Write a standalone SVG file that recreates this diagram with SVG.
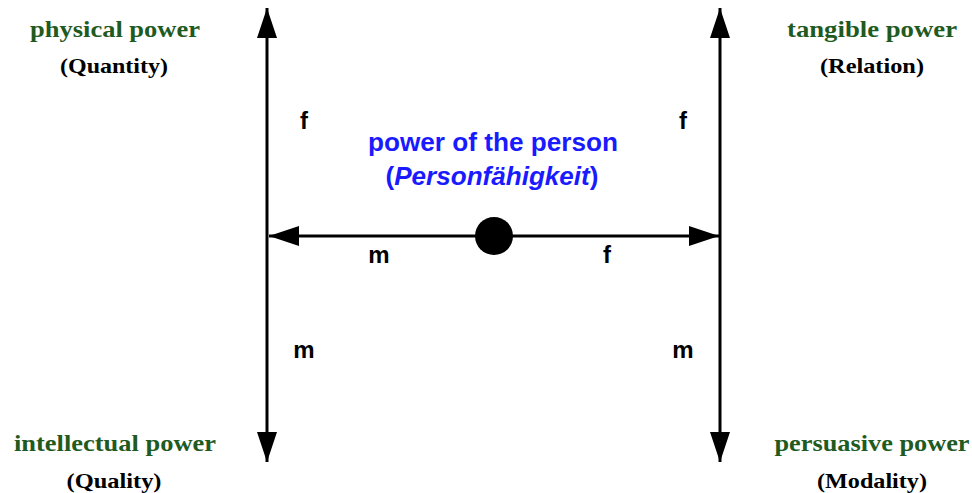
<svg xmlns="http://www.w3.org/2000/svg" width="972" height="493" viewBox="0 0 972 493">
<style>
.t{font-family:"Liberation Serif","Times New Roman",serif;font-weight:bold;text-anchor:middle}
.g{fill:#1f5a1f;font-size:24px}
.k{fill:#000;font-size:21px}
.l{font-family:"Liberation Sans",Arial,sans-serif;font-weight:bold;font-size:24px;fill:#000;text-anchor:middle}
.b{font-family:"Liberation Sans",Arial,sans-serif;font-weight:bold;font-size:25px;fill:#1a1aff;text-anchor:middle}
.ln{stroke:#000;stroke-width:3;fill:none}
</style>
<defs>
<marker id="ah" viewBox="0 0 30 20" refX="30" refY="10" markerWidth="30" markerHeight="20" markerUnits="userSpaceOnUse" orient="auto">
<path d="M0,0 L30,10 L0,20 z" fill="#000"/>
</marker>
</defs>
<rect width="972" height="493" fill="#fff"/>
<g id="connectors">
<line class="ln" x1="267" y1="236" x2="267" y2="8" marker-end="url(#ah)"/>
<line class="ln" x1="267" y1="236" x2="267" y2="462" marker-end="url(#ah)"/>
<line class="ln" x1="720" y1="236" x2="720" y2="8" marker-end="url(#ah)"/>
<line class="ln" x1="720" y1="236" x2="720" y2="462" marker-end="url(#ah)"/>
<line class="ln" x1="494" y1="236" x2="269" y2="236" marker-end="url(#ah)"/>
<line class="ln" x1="494" y1="236" x2="719" y2="236" marker-end="url(#ah)"/>
<text class="l" x="304" y="129">f</text>
<text class="l" x="683" y="129">f</text>
<text class="l" x="379" y="263">m</text>
<text class="l" x="607" y="263">f</text>
<text class="l" x="304" y="358">m</text>
<text class="l" x="683" y="358">m</text>
</g>
<g id="center">
<circle cx="494" cy="236" r="19" fill="#000"/>
<text class="b" x="493" y="151" textLength="250" lengthAdjust="spacingAndGlyphs">power of the person</text>
<text class="b" x="492" y="185" textLength="213" lengthAdjust="spacingAndGlyphs">(<tspan font-style="italic">Personfähigkeit</tspan>)</text>
</g>
<g id="physical">
<text class="t g" x="115" y="37" textLength="170" lengthAdjust="spacingAndGlyphs">physical power</text>
<text class="t k" x="114" y="73" textLength="108" lengthAdjust="spacingAndGlyphs">(Quantity)</text>
</g>
<g id="tangible">
<text class="t g" x="872" y="37" textLength="170" lengthAdjust="spacingAndGlyphs">tangible power</text>
<text class="t k" x="872" y="73" textLength="104" lengthAdjust="spacingAndGlyphs">(Relation)</text>
</g>
<g id="intellectual">
<text class="t g" x="115" y="451" textLength="202" lengthAdjust="spacingAndGlyphs">intellectual power</text>
<text class="t k" x="114" y="488" textLength="95" lengthAdjust="spacingAndGlyphs">(Quality)</text>
</g>
<g id="persuasive">
<text class="t g" x="872" y="451" textLength="195" lengthAdjust="spacingAndGlyphs">persuasive power</text>
<text class="t k" x="872" y="488" textLength="110" lengthAdjust="spacingAndGlyphs">(Modality)</text>
</g>
</svg>
